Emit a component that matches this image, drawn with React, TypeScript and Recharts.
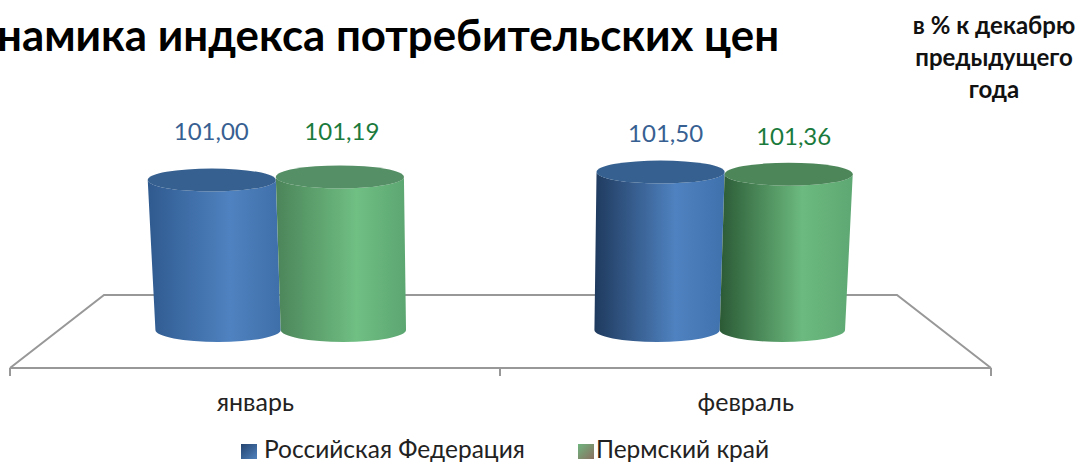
import React from "react";
import { BarChart, Bar, XAxis, YAxis, Legend, LabelList } from "recharts";

// Values
const months = ["январь", "февраль"];
const rfValues = [101.0, 101.5];
const permValues = [101.19, 101.36];
const seriesNames = ["Российская Федерация", "Пермский край"];

const chartData = months.map((name, i) => ({
  name,
  rf: rfValues[i],
  perm: permValues[i],
}));

const FONT = "Lato, 'Open Sans', sans-serif";
const CENTER_X = 500; // vanishing point of the fake 3d floor
const TOP_K = 0.915;
const BOTTOM_K = 0.895;
const FLOOR_DROP = 38;
const LINE_COLOR = "#989898";

const squeeze = (x: number, k: number) => CENTER_X + (x - CENTER_X) * k;

const gradients: Record<string, { left: string; mid: string; right: string; cap: string }> = {
  "rf-0": { left: "#2f5a8f", mid: "#4f82c0", right: "#3f6fa9", cap: "#36608f" },
  "rf-1": { left: "#1f3a5e", mid: "#4f82c0", right: "#3f71ad", cap: "#35608f" },
  "perm-0": { left: "#4b8459", mid: "#70bf83", right: "#5ca672", cap: "#548f65" },
  "perm-1": { left: "#2b5a35", mid: "#6cba7f", right: "#5ea873", cap: "#4c8659" },
};

const Cylinder = (props: any) => {
  const { x, y, width, height, index, series } = props;
  const bottom = y + height - FLOOR_DROP;
  const tl = squeeze(x, TOP_K);
  const tr = squeeze(x + width, TOP_K);
  const bl = squeeze(x, BOTTOM_K);
  const br = squeeze(x + width, BOTTOM_K);
  const rt = (tr - tl) / 2;
  const rb = (br - bl) / 2;
  const id = `${series}-${index}`;
  return (
    <g>
      <path
        d={`M${tl},${y} L${bl},${bottom} A${rb},12 0 0 0 ${br},${bottom} L${tr},${y} A${rt},11.5 0 0 1 ${tl},${y} Z`}
        fill={`url(#grad-${id})`}
      />
      <ellipse cx={(tl + tr) / 2} cy={y} rx={rt} ry={11.5} fill={gradients[id].cap} />
    </g>
  );
};

const labelNudge: Record<string, number[][]> = {
  rf: [[-0.5, -50], [5, -40]],
  perm: [[2, -46], [5, -39]],
};

const valueLabel = (series: string, color: string) => (props: any) => {
  const { x, y, width, value, index } = props;
  const cx = squeeze(x + width / 2, TOP_K) + labelNudge[series][index][0];
  return (
    <text
      x={cx}
      y={y + labelNudge[series][index][1]}
      textAnchor="middle"
      dominantBaseline="central"
      fontFamily={FONT}
      fontSize={24}
      fill={color}
    >
      {Number(value).toFixed(2).replace(".", ",")}
    </text>
  );
};

const LegendBox = () => (
  <div style={{ position: "relative", height: 35, fontFamily: FONT, fontSize: 24.5, color: "#222" }}>
    <span style={{ position: "absolute", left: 231, top: 16, width: 16, height: 15, background: "linear-gradient(135deg,#24446f,#4f81bd)" }} />
    <span style={{ position: "absolute", left: 254, top: 6, whiteSpace: "nowrap" }}>{seriesNames[0]}</span>
    <span style={{ position: "absolute", left: 568, top: 16, width: 16, height: 15, background: "linear-gradient(135deg,#6fb57f,#8a6f60)" }} />
    <span style={{ position: "absolute", left: 586, top: 6, whiteSpace: "nowrap" }}>{seriesNames[1]}</span>
  </div>
);

export default function App() {
  return (
    <div style={{ position: "absolute", left: 0, top: 0, width: 1082, height: 463, overflow: "hidden", background: "#fff" }}>
      <div style={{ position: "absolute", left: -3, top: 8, fontFamily: FONT, fontWeight: 700, fontSize: 43.8, color: "#000", whiteSpace: "nowrap" }}>
        намика индекса потребительских цен
      </div>
      <div style={{ position: "absolute", left: 894, width: 200, top: 9, textAlign: "center", fontFamily: FONT, fontWeight: 700, fontSize: 24, lineHeight: "32px", color: "#111" }}>
        в % к декабрю
        <br />
        предыдущего
        <br />
        года
      </div>
      <BarChart
        width={1082}
        height={463}
        data={chartData}
        margin={{ top: 60, right: 91, bottom: 0, left: 10 }}
        barSize={140}
        barGap={0}
      >
        <defs>
          {Object.entries(gradients).map(([key, g]) => (
            <linearGradient key={key} id={`grad-${key}`} x1="0" y1="0" x2="1" y2="0">
              <stop offset="0%" stopColor={g.left} />
              <stop offset="62%" stopColor={g.mid} />
              <stop offset="100%" stopColor={g.right} />
            </linearGradient>
          ))}
        </defs>
        <polyline points="10,368 104,295 897,295 991,368" fill="none" stroke={LINE_COLOR} strokeWidth={2} />
        <line x1={10} y1={368} x2={10} y2={376} stroke={LINE_COLOR} strokeWidth={2} />
        <line x1={500} y1={368} x2={500} y2={376} stroke={LINE_COLOR} strokeWidth={2} />
        <line x1={991} y1={368} x2={991} y2={376} stroke={LINE_COLOR} strokeWidth={2} />
        <XAxis
          dataKey="name"
          height={60}
          axisLine={{ stroke: LINE_COLOR, strokeWidth: 2 }}
          tickLine={false}
          tickMargin={19}
          tick={{ fontFamily: FONT, fontSize: 25, fill: "#222" }}
        />
        <YAxis hide domain={[89.25, 108.5]} />
        <Legend verticalAlign="bottom" height={35} content={<LegendBox />} />
        <Bar
          dataKey="rf"
          name={seriesNames[0]}
          fill="#4f81bd"
          isAnimationActive={false}
          shape={(p: any) => <Cylinder {...p} series="rf" />}
        >
          <LabelList dataKey="rf" content={valueLabel("rf", "#376092")} />
        </Bar>
        <Bar
          dataKey="perm"
          name={seriesNames[1]}
          fill="#70bf83"
          isAnimationActive={false}
          shape={(p: any) => <Cylinder {...p} series="perm" />}
        >
          <LabelList dataKey="perm" content={valueLabel("perm", "#1a7a3c")} />
        </Bar>
      </BarChart>
    </div>
  );
}
